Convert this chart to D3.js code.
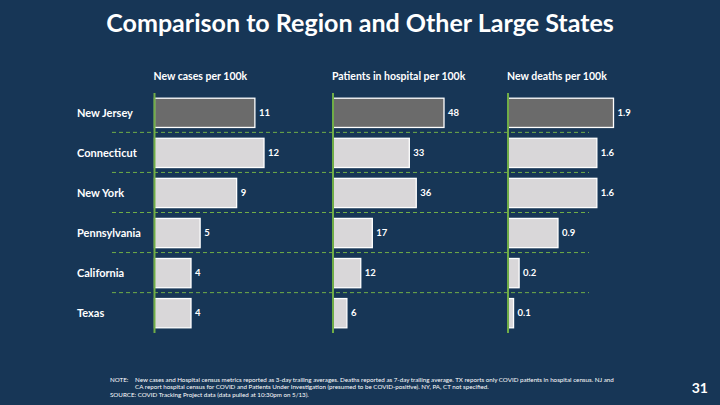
<!DOCTYPE html>
<html>
<head>
<meta charset="utf-8">
<script src="https://cdn.jsdelivr.net/npm/d3@7"></script>
<style>
  body { margin: 0; background: #173656; }
  svg { display: block; font-family: Lato, "Open Sans", sans-serif; }
</style>
</head>
<body>
<svg id="chart" width="720" height="405"></svg>
<script>
// data
var states = ["New Jersey", "Connecticut", "New York", "Pennsylvania", "California", "Texas"];
var newCases = [11, 12, 9, 5, 4, 4];
var hospital = [48, 33, 36, 17, 12, 6];
var deaths = [1.9, 1.6, 1.6, 0.9, 0.2, 0.1];
var caseLabels = ["11", "12", "9", "5", "4", "4"];
var hospLabels = ["48", "33", "36", "17", "12", "6"];
var deathLabels = ["1.9", "1.6", "1.6", "0.9", "0.2", "0.1"];
var panelTitles = ["New cases per 100k", "Patients in hospital per 100k", "New deaths per 100k"];

var svg = d3.select("#chart");
var green = "#70ad47";

// title, shrunk to fit the slide width
var title = svg.append("text")
    .attr("x", 360)
    .attr("y", 32)
    .attr("text-anchor", "middle")
    .attr("fill", "#fff")
    .attr("font-weight", "bold")
    .attr("font-size", 25)
    .text("Comparison to Region and Other Large States");
var tw = title.node().getComputedTextLength();
title.attr("font-size", 25 * 508 / tw);

var y = d3.scaleBand()
    .domain(states)
    .range([93, 333])
    .paddingInner(0.27)
    .paddingOuter(0.13);

// dashed separators between rows
svg.selectAll("line.sep")
    .data(states.slice(1))
    .enter()
    .append("line")
    .attr("class", "sep")
    .attr("x1", 112)
    .attr("x2", 589)
    .attr("y1", function (d) { return y(d) - y.step() * y.paddingInner() / 2 - 0.5; })
    .attr("y2", function (d) { return y(d) - y.step() * y.paddingInner() / 2 - 0.5; })
    .attr("stroke", green)
    .attr("stroke-width", 1)
    .attr("stroke-dasharray", "4,3");

// row labels
svg.selectAll("text.state")
    .data(states)
    .enter()
    .append("text")
    .attr("class", "state")
    .attr("x", 77)
    .attr("y", function (d) { return y(d) + y.bandwidth() / 2; })
    .attr("dy", ".35em")
    .attr("fill", "#fff")
    .attr("font-weight", "bold")
    .attr("font-size", 11)
    .text(function (d) { return d; });

var panels = [
    {x0: 154.5, max: 12, px: 109.5, vals: newCases, labels: caseLabels},
    {x0: 333, max: 48, px: 111, vals: hospital, labels: hospLabels},
    {x0: 508, max: 1.9, px: 105.5, vals: deaths, labels: deathLabels}
];

function drawPanel(p, i) {
    var x = d3.scaleLinear().domain([0, p.max]).range([p.x0, p.x0 + p.px]);
    var g = svg.append("g").attr("class", "panel");

    g.append("text")
        .attr("x", p.x0 - 1)
        .attr("y", 80)
        .attr("fill", "#fff")
        .attr("font-weight", "bold")
        .attr("font-size", 10.5)
        .text(panelTitles[i]);

    g.selectAll("rect")
        .data(p.vals)
        .enter()
        .append("rect")
        .attr("x", x(0))
        .attr("y", function (d, j) { return y(states[j]); })
        .attr("width", function (d) { return x(d) - x(0); })
        .attr("height", y.bandwidth())
        .attr("fill", function (d, j) { return j == 0 ? "#6b6b6b" : "#d9d7d9"; })
        .attr("stroke", "#fff")
        .attr("stroke-width", 1.3);

    g.selectAll("text.val")
        .data(p.vals)
        .enter()
        .append("text")
        .attr("class", "val")
        .attr("x", function (d) { return x(d) + 4; })
        .attr("y", function (d, j) { return y(states[j]) + y.bandwidth() / 2; })
        .attr("dy", ".35em")
        .attr("fill", "#fff")
        .attr("font-weight", "bold")
        .attr("font-size", 9.5)
        .text(function (d, j) { return p.labels[j]; });

    // green baseline
    g.append("line")
        .attr("x1", x(0)).attr("x2", x(0))
        .attr("y1", 93).attr("y2", 333)
        .attr("stroke", green)
        .attr("stroke-width", 2);
}
panels.forEach(drawPanel);

// footnote
var notes = [
    {x: 110, y: 381.5, t: "NOTE:"},
    {x: 135, y: 381.5, t: "New cases and Hospital census metrics reported as 3-day trailing averages. Deaths reported as 7-day trailing average. TX reports only COVID patients in hospital census. NJ and"},
    {x: 135, y: 389, t: "CA report hospital census for COVID and Patients Under Investigation (presumed to be COVID-positive). NY, PA, CT not specified."},
    {x: 110, y: 396.5, t: "SOURCE: COVID Tracking Project data (data pulled at 10:30pm on 5/13)."}
];
var noteText = svg.selectAll("text.note")
    .data(notes)
    .enter()
    .append("text")
    .attr("class", "note")
    .attr("x", function (d) { return d.x; })
    .attr("y", function (d) { return d.y; })
    .attr("fill", "#fff")
    .attr("font-size", 5.2)
    .text(function (d) { return d.t; });
// size the note so its first long line ends where the slide's does
var nw = noteText.nodes()[1].getComputedTextLength();
noteText.attr("font-size", 5.2 * 479 / nw);

svg.append("text")
    .attr("x", 708)
    .attr("y", 393)
    .attr("text-anchor", "end")
    .attr("fill", "#fff")
    .attr("font-weight", "bold")
    .attr("font-size", 14)
    .text("31");
</script>
</body>
</html>
